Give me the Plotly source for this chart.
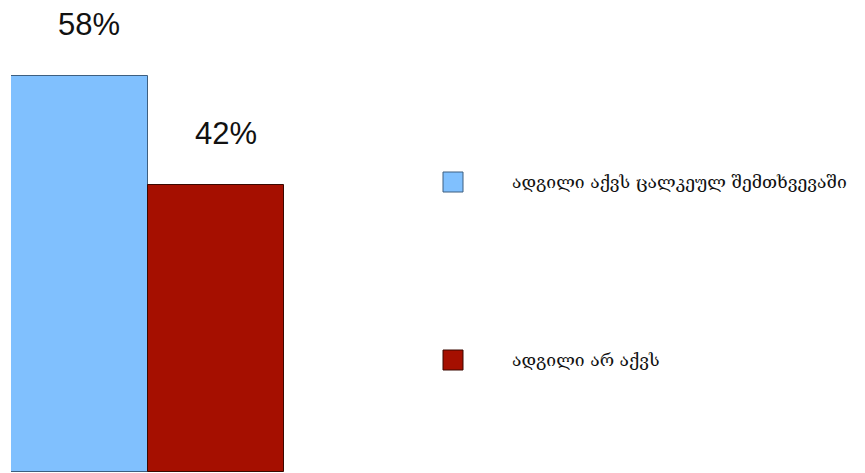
import plotly.graph_objects as go

# Survey answers and their shares (%)
categories = ["ადგილი აქვს ცალკეულ შემთხვევაში", "ადგილი არ აქვს"]
values = [58, 42]
colors = ["#80c0fe", "#a50f00"]
edge_colors = ["#3d5f80", "#3a0800"]

W, H = 865, 473


def px_x(x):
    return x / W


def px_y(y):
    return (H - y) / H


fig = go.Figure()
for i, (name, val) in enumerate(zip(categories, values)):
    fig.add_trace(go.Bar(
        x=[i], y=[val], width=1, name=name,
        marker=dict(color=colors[i], line=dict(color=edge_colors[i], width=1)),
        showlegend=False, hoverinfo="skip",
    ))
    # percentage label above each bar
    fig.add_annotation(
        x=i, y=val, xref="x", yref="y", text=f"{val}%", showarrow=False,
        yanchor="bottom", yshift=32, xshift=10,
        font=dict(family="Liberation Sans, Arial, sans-serif", size=31, color="#111"),
    )

# Legend drawn as squares with labels on the right
legend_rows = [182, 360]
for i, name in enumerate(categories):
    cy = legend_rows[i]
    fig.add_shape(
        type="rect", xref="paper", yref="paper",
        x0=px_x(443), x1=px_x(463), y0=px_y(cy - 10), y1=px_y(cy + 10),
        fillcolor=colors[i], line=dict(color=edge_colors[i], width=1),
    )
    fig.add_annotation(
        x=px_x(510), y=px_y(cy), xref="paper", yref="paper", text=name,
        showarrow=False, xanchor="left", yanchor="middle",
        font=dict(family="DejaVu Serif, DejaVu Sans, serif", size=17.5, color="#111"),
    )

fig.update_layout(
    width=W, height=H,
    margin=dict(l=0, r=0, t=0, b=0),
    paper_bgcolor="white", plot_bgcolor="white",
    bargap=0, barmode="overlay",
    xaxis=dict(domain=[px_x(11), px_x(284)], range=[-0.5, 1.5], visible=False),
    yaxis=dict(domain=[px_y(472), 1], range=[0, 69.1], visible=False),
)

fig.write_html("out.html")
